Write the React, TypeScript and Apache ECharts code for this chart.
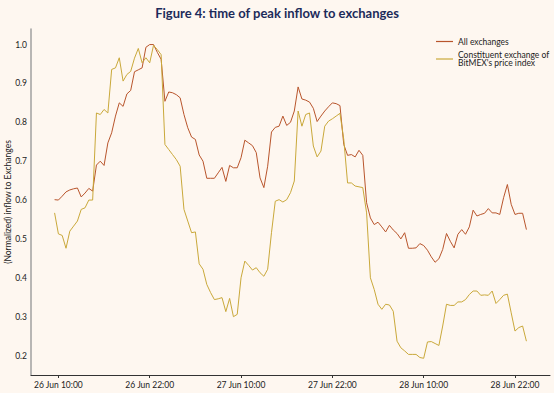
import React, { useEffect, useRef } from "react";
import * as echarts from "echarts";

// Half-hourly samples, starting 26 Jun 09:30 (hours counted from 26 Jun 00:00)
const START_HOUR = 9.5;
const STEP_HOURS = 0.5;

const allExchanges = [
  0.601, 0.600, 0.610, 0.621, 0.626, 0.629, 0.631, 0.608, 0.618, 0.630,
  0.623, 0.690, 0.700, 0.689, 0.747, 0.773, 0.816, 0.850, 0.841, 0.873,
  0.882, 0.930, 0.935, 0.940, 0.993, 1.000, 1.000, 0.980, 0.962, 0.854,
  0.878, 0.876, 0.871, 0.863, 0.820, 0.786, 0.762, 0.756, 0.716, 0.700,
  0.656, 0.656, 0.656, 0.670, 0.684, 0.648, 0.689, 0.683, 0.683, 0.709,
  0.754, 0.747, 0.740, 0.722, 0.657, 0.632, 0.687, 0.775, 0.787, 0.790,
  0.816, 0.792, 0.800, 0.829, 0.891, 0.860, 0.857, 0.852, 0.836, 0.802,
  0.816, 0.829, 0.840, 0.850, 0.848, 0.843, 0.743, 0.715, 0.717, 0.711,
  0.728, 0.715, 0.593, 0.554, 0.537, 0.543, 0.531, 0.518, 0.535, 0.523,
  0.514, 0.500, 0.516, 0.476, 0.476, 0.477, 0.488, 0.483, 0.471, 0.454,
  0.440, 0.449, 0.473, 0.514, 0.494, 0.477, 0.512, 0.524, 0.512, 0.531,
  0.574, 0.559, 0.563, 0.566, 0.578, 0.567, 0.567, 0.563, 0.606, 0.640,
  0.589, 0.563, 0.566, 0.566, 0.524,
];

const constituent = [
  0.567, 0.513, 0.509, 0.476, 0.520, 0.533, 0.546, 0.576, 0.580, 0.600,
  0.600, 0.824, 0.820, 0.833, 0.824, 0.936, 0.940, 0.966, 0.906, 0.923,
  0.931, 0.965, 0.990, 0.953, 0.966, 0.953, 0.998, 0.987, 0.974, 0.743,
  0.730, 0.717, 0.704, 0.687, 0.576, 0.546, 0.516, 0.518, 0.436, 0.422,
  0.383, 0.362, 0.344, 0.346, 0.349, 0.313, 0.347, 0.300, 0.306, 0.400,
  0.443, 0.432, 0.420, 0.426, 0.413, 0.404, 0.422, 0.516, 0.597, 0.601,
  0.595, 0.601, 0.619, 0.649, 0.829, 0.790, 0.820, 0.824, 0.739, 0.711,
  0.726, 0.790, 0.803, 0.809, 0.816, 0.823, 0.756, 0.644, 0.644, 0.636,
  0.634, 0.632, 0.567, 0.400, 0.370, 0.332, 0.319, 0.332, 0.330, 0.314,
  0.237, 0.220, 0.212, 0.203, 0.203, 0.203, 0.195, 0.193, 0.235, 0.236,
  0.231, 0.226, 0.276, 0.332, 0.329, 0.329, 0.338, 0.338, 0.344, 0.357,
  0.366, 0.366, 0.355, 0.356, 0.355, 0.366, 0.334, 0.344, 0.355, 0.358,
  0.310, 0.263, 0.272, 0.276, 0.237,
];

const tickHours = [10, 22, 34, 46, 58, 70];
const tickLabels = [
  "26 Jun 10:00",
  "26 Jun 22:00",
  "27 Jun 10:00",
  "27 Jun 22:00",
  "28 Jun 10:00",
  "28 Jun 22:00",
];
const yTicks = [0.2, 0.3, 0.4, 0.5, 0.6, 0.7, 0.8, 0.9, 1.0];

const SERIES_A = "All exchanges";
const SERIES_B = "Constituent exchange of BitMEX's price index";

const FONT = "Lato, 'Open Sans', sans-serif";

export default function App() {
  const ref = useRef<HTMLDivElement>(null);

  useEffect(() => {
    if (!ref.current) return;
    const chart = echarts.init(ref.current, undefined, { renderer: "svg" });
    const toPairs = (arr: number[]) =>
      arr.map((v, i) => [START_HOUR + STEP_HOURS * i, v]);

    chart.setOption({
      animation: false,
      backgroundColor: "#FEF7F0",
      textStyle: { fontFamily: FONT },
      title: {
        text: "Figure 4: time of peak inflow to exchanges",
        left: "center",
        top: 1,
        textStyle: {
          fontFamily: FONT,
          fontSize: 13,
          fontWeight: "bold",
          color: "#1C2B5A",
        },
      },
      legend: {
        orient: "vertical",
        left: 431,
        top: 32,
        icon: "rect",
        itemWidth: 17,
        itemHeight: 1.2,
        itemGap: 4,
        data: [SERIES_A, SERIES_B],
        formatter: (name: string) =>
          name === SERIES_B
            ? "Constituent exchange of\nBitMEX's price index"
            : name,
        textStyle: {
          fontFamily: FONT,
          fontSize: 8.5,
          color: "#222",
          lineHeight: 9,
        },
      },
      grid: {
        left: 31,
        right: 4,
        top: 29,
        bottom: 18,
        containLabel: false,
        outerBoundsMode: "none",
      },
      xAxis: {
        type: "value",
        min: 6.4,
        max: 74.6,
        splitLine: { show: false },
        axisLine: { show: true, lineStyle: { color: "#333", width: 1 } },
        axisTick: {
          show: true,
          length: 3,
          customValues: tickHours,
          lineStyle: { color: "#333" },
        },
        axisLabel: {
          customValues: tickHours,
          fontFamily: FONT,
          fontSize: 8.5,
          color: "#222",
          margin: 5,
          formatter: (v: number) => {
            const idx = tickHours.findIndex((h) => Math.abs(h - v) < 1e-6);
            return idx >= 0 ? tickLabels[idx] : "";
          },
        },
      },
      yAxis: {
        type: "value",
        min: 0.15,
        max: 1.04,
        name: "(Normalized) inflow to Exchanges",
        nameLocation: "middle",
        nameGap: 19,
        nameMoveOverlap: false,
        nameTextStyle: {
          fontFamily: FONT,
          fontSize: 8.5,
          color: "#222",
        },
        splitLine: { show: false },
        axisLine: { show: true, lineStyle: { color: "#A0A0A0", width: 1.5 } },
        axisTick: { show: false },
        axisLabel: {
          customValues: yTicks,
          fontFamily: FONT,
          fontSize: 8.5,
          color: "#222",
          margin: 4,
          formatter: (v: number) => v.toFixed(1),
        },
      },
      series: [
        {
          name: SERIES_A,
          type: "line",
          symbol: "none",
          data: toPairs(allExchanges),
          lineStyle: { color: "#B8552C", width: 1 },
          itemStyle: { color: "#B8552C" },
        },
        {
          name: SERIES_B,
          type: "line",
          symbol: "none",
          data: toPairs(constituent),
          lineStyle: { color: "#C9A83A", width: 1 },
          itemStyle: { color: "#C9A83A" },
        },
      ],
    });

    return () => chart.dispose();
  }, []);

  return (
    <div
      ref={ref}
      style={{ position: "fixed", left: 0, top: 0, width: 554, height: 393 }}
    />
  );
}
